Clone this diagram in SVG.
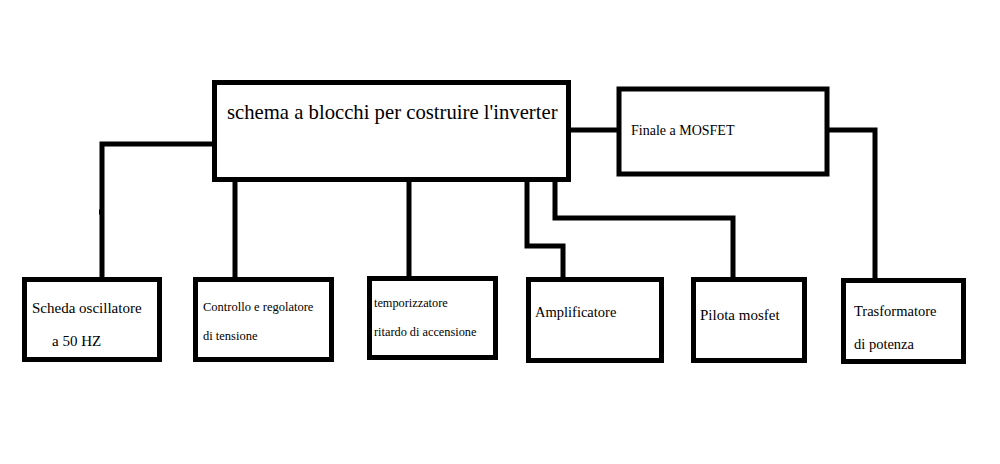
<svg xmlns="http://www.w3.org/2000/svg" width="1000" height="464" viewBox="0 0 1000 464">
<style>
.b{fill:#fff;stroke:#000;stroke-width:5}
.c{fill:none;stroke:#000;stroke-width:5}
text{font-family:"Liberation Serif",serif;fill:#000}
</style>
<rect width="1000" height="464" fill="#fff"/>
<g id="connectors">
<polyline class="c" points="214,144 102,144 102,279"/>
<line class="c" x1="99" y1="212" x2="104" y2="212"/>
<line class="c" x1="235" y1="180" x2="235" y2="279"/>
<line class="c" x1="409" y1="180" x2="409" y2="278"/>
<polyline class="c" points="527,180 527,246 563,246 563,279"/>
<polyline class="c" points="555,180 555,218 733,218 733,279"/>
<line class="c" x1="569" y1="130" x2="619" y2="130"/>
<polyline class="c" points="827,130 875,130 875,280"/>
</g>
<g id="main"><rect class="b" x="214.5" y="82.5" width="354" height="97"/><text x="227" y="119" font-size="20.7">schema a blocchi per costruire l'inverter</text></g>
<g id="finale"><rect class="b" x="619" y="89" width="208" height="85"/><text x="631" y="135" font-size="14">Finale a MOSFET</text></g>
<g id="scheda"><rect class="b" x="24.5" y="279.5" width="135" height="80"/><text x="32" y="313" font-size="15">Scheda oscillatore</text><text x="52" y="346" font-size="15">a 50 HZ</text></g>
<g id="controllo"><rect class="b" x="195.5" y="279.5" width="136" height="80"/><text x="203" y="311" font-size="12.5">Controllo e regolatore</text><text x="203" y="340" font-size="12.5">di tensione</text></g>
<g id="temporizzatore"><rect class="b" x="369.5" y="278.5" width="126" height="79"/><text x="374" y="307" font-size="12.3">temporizzatore</text><text x="374" y="336" font-size="12.3">ritardo di accensione</text></g>
<g id="amplificatore"><rect class="b" x="528.5" y="279.5" width="133" height="81"/><text x="535" y="317" font-size="14.5">Amplificatore</text></g>
<g id="pilota"><rect class="b" x="693.5" y="279.5" width="111" height="81"/><text x="700" y="320" font-size="15">Pilota mosfet</text></g>
<g id="trasformatore"><rect class="b" x="843.5" y="280.5" width="120" height="81"/><text x="854" y="316" font-size="14.5">Trasformatore</text><text x="854" y="349" font-size="14.5">di potenza</text></g>
</svg>
